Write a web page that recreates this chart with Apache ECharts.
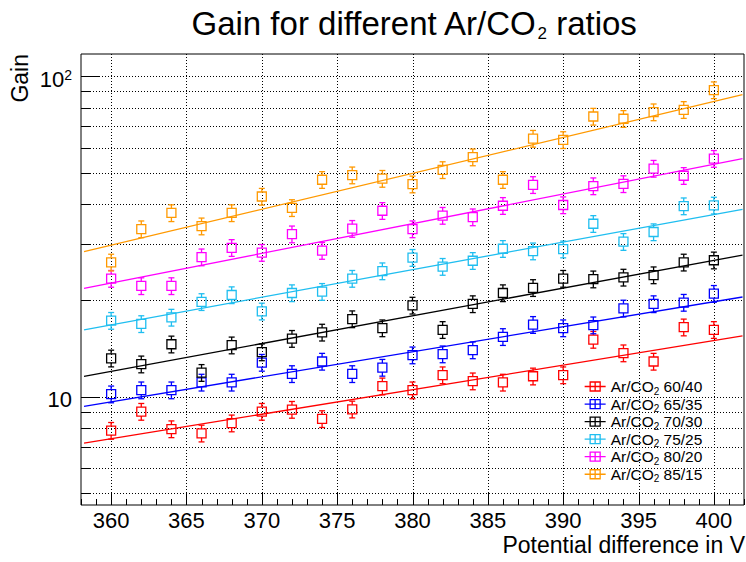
<!DOCTYPE html>
<html>
<head>
<meta charset="utf-8">
<script src="https://cdn.jsdelivr.net/npm/echarts@6/dist/echarts.min.js"></script>
<style>html,body{margin:0;padding:0;background:#fff}#c{width:746px;height:562px}</style>
</head>
<body>
<div id="c"></div>
<script>
// ---------------- data ----------------
const voltages = [360, 362, 364, 366, 368, 370, 372, 374, 376, 378, 380, 382, 384, 386, 388, 390, 392, 394, 396, 398, 400];
const mixtures = ['60/40', '65/35', '70/30', '75/25', '80/20', '85/15'];

const gain6040 = [7.85, 9.0, 7.94, 7.7, 8.28, 9.0, 9.13, 8.54, 9.15, 10.8, 10.5, 11.7, 11.2, 11.1, 11.6, 11.7, 15.1, 13.7, 12.9, 16.5, 16.2];
const gain6535 = [10.2, 10.5, 10.5, 11.1, 11.1, 12.8, 11.8, 12.9, 11.8, 12.35, 13.5, 13.6, 14.0, 15.4, 16.8, 16.4, 16.75, 18.9, 19.5, 19.7, 21.0];
const gain7030 = [13.2, 12.65, 14.6, 11.9, 14.5, 13.8, 15.2, 15.9, 17.5, 16.4, 19.3, 16.2, 19.5, 21.1, 21.9, 23.4, 23.3, 23.6, 24.0, 26.3, 26.7];
const gain7525 = [17.3, 16.9, 17.7, 19.8, 20.8, 18.5, 21.1, 21.3, 23.4, 24.7, 27.2, 25.5, 26.6, 29.0, 28.5, 28.9, 34.7, 30.5, 32.7, 39.4, 39.6];
const gain8020 = [23.4, 22.2, 22.2, 27.3, 29.2, 28.2, 32.2, 28.6, 33.5, 38.1, 33.4, 36.8, 36.4, 39.5, 45.9, 39.7, 45.5, 46.2, 51.6, 49.0, 55.4];
const gain8515 = [26.3, 33.4, 37.5, 34.1, 37.5, 42.2, 38.9, 47.6, 49.2, 48.0, 46.1, 51.1, 56.0, 47.6, 64.0, 63.4, 75.0, 73.8, 77.4, 78.7, 90.7];

// relative uncertainty of each gain point (error bar half-length)
const relError = 0.06;

// exponential fit lines: values at the two ends of the drawn range
const fitVoltages = [358.2, 401.9];
const fit6040 = [7.17, 15.5];
const fit6535 = [9.35, 20.5];
const fit7030 = [11.6, 27.7];
const fit7525 = [16.2, 38.5];
const fit8020 = [21.8, 55.4];
const fit8515 = [28.4, 87.7];

// tick labels
const xTickLabels = [360, 365, 370, 375, 380, 385, 390, 395, 400];
const yTickLabels = [10, 100];
const yMinorTicks = [5, 6, 7, 8, 9, 20, 30, 40, 50, 60, 70, 80, 90];

// ---------------- styling / layout ----------------
const gains = [gain6040, gain6535, gain7030, gain7525, gain8020, gain8515];
const fits = [fit6040, fit6535, fit7030, fit7525, fit8020, fit8515];
const colors = ['#ff0000', '#0000ff', '#000000', '#1fbef0', '#ff00ff', '#ff9900'];
const X_MIN = 358, X_MAX = 402, Y_MIN = 4.6, Y_MAX = 117.5;
const FONT = 'Liberation Sans';
const names = mixtures.map(m => 'Ar/CO2 ' + m);

const chart = echarts.init(document.getElementById('c'), null, {renderer: 'svg'});

function renderYGrid(params, api) {
  const v = api.value(1), major = api.value(2);
  const a = api.coord([X_MIN, v]), b = api.coord([X_MAX, v]);
  const y = Math.round(a[1]) + 0.5;
  const len = major ? 19 : 9.5;
  return {type: 'group', children: [
    {type: 'line', shape: {x1: a[0], y1: y, x2: b[0], y2: y}, style: {stroke: '#000', lineWidth: 1, lineDash: [1, 2], fill: 'none'}},
    {type: 'line', shape: {x1: a[0], y1: y, x2: a[0] + len, y2: y}, style: {stroke: '#000', lineWidth: 1, fill: 'none'}}
  ]};
}
function renderXTick(params, api) {
  const v = api.value(0), major = api.value(2);
  const a = api.coord([v, Y_MIN]);
  const x = Math.round(a[0]) + 0.5;
  return {type: 'line', shape: {x1: x, y1: a[1], x2: x, y2: a[1] - (major ? 12 : 6)}, style: {stroke: '#000', lineWidth: 1, fill: 'none'}};
}
function renderXGrid(params, api) {
  const v = api.value(0);
  const a = api.coord([v, Y_MIN]), b = api.coord([v, Y_MAX]);
  const x = Math.round(a[0]) + 0.5;
  return {type: 'line', shape: {x1: x, y1: a[1], x2: x, y2: b[1]}, style: {stroke: '#000', lineWidth: 1, lineDash: [1, 2], fill: 'none'}};
}
function makePointRenderer(color) {
  return function (params, api) {
    const x = api.value(0), y = api.value(1), e = api.value(2);
    const c = api.coord([x, y]), t = api.coord([x, y + e]), b = api.coord([x, y - e]);
    const h = 4.5, cap = 3;
    const st = {stroke: color, lineWidth: 1.3, fill: 'none'};
    const cx = c[0], cy = c[1];
    return {type: 'group', children: [
      {type: 'rect', shape: {x: cx - h, y: cy - h, width: 2 * h, height: 2 * h}, style: st},
      {type: 'line', shape: {x1: cx, y1: cy - h, x2: cx, y2: t[1]}, style: st},
      {type: 'line', shape: {x1: cx - cap, y1: t[1], x2: cx + cap, y2: t[1]}, style: st},
      {type: 'line', shape: {x1: cx, y1: cy + h, x2: cx, y2: b[1]}, style: st},
      {type: 'line', shape: {x1: cx - cap, y1: b[1], x2: cx + cap, y2: b[1]}, style: st}
    ]};
  };
}

const yGridData = yTickLabels.map(v => [X_MIN, v, 1]).concat(yMinorTicks.map(v => [X_MIN, v, 0]));
const xTickData = [];
for (let v = X_MIN; v <= X_MAX; v++) xTickData.push([v, Y_MIN, xTickLabels.indexOf(v) >= 0 ? 1 : 0]);
const xGridData = xTickLabels.map(v => [v, Y_MIN]);

const series = [
  {type: 'custom', name: 'ygrid', renderItem: renderYGrid, data: yGridData, encode: {x: 0, y: 1}, silent: true, z: 1},
  {type: 'custom', name: 'xgrid', renderItem: renderXGrid, data: xGridData, encode: {x: 0, y: 1}, silent: true, z: 1},
  {type: 'custom', name: 'xtick', renderItem: renderXTick, data: xTickData, encode: {x: 0, y: 1}, silent: true, z: 1}
];
names.forEach((n, i) => {
  series.push({
    type: 'line', name: n, data: fitVoltages.map((v, k) => [v, fits[i][k]]),
    symbol: 'none', lineStyle: {color: colors[i], width: 1.3}, itemStyle: {color: colors[i]}, silent: true, z: 2
  });
  series.push({
    type: 'custom', name: n, renderItem: makePointRenderer(colors[i]),
    data: voltages.map((v, k) => [v, gains[i][k], gains[i][k] * relError]),
    encode: {x: 0, y: 1}, itemStyle: {color: colors[i]}, silent: true, z: 3
  });
});

const ICON = 'path://M0,5L21,5M5.5,0.5L15.5,0.5L15.5,9.5L5.5,9.5ZM10.5,0.5L10.5,9.5';

chart.setOption({
  animation: false,
  backgroundColor: '#fff',
  title: {
    text: '{t|Gain for different Ar/CO}{s|2}{t| ratios}',
    left: 191.5, top: 4.3, padding: 0,
    textStyle: {fontWeight: 'normal', rich: {
      t: {fontSize: 33, fontFamily: FONT, fontWeight: 'normal', color: '#000', lineHeight: 38},
      s: {fontSize: 17, fontFamily: FONT, fontWeight: 'normal', color: '#000', lineHeight: 38, verticalAlign: 'bottom'}
    }}
  },
  legend: {
    orient: 'vertical', left: 584, top: 378.5, padding: 0,
    itemWidth: 21, itemHeight: 10, itemGap: 0, selectedMode: false,
    data: names.map((n, i) => ({name: n, icon: ICON, itemStyle: {color: 'rgba(0,0,0,0)', borderColor: colors[i], borderWidth: 1.3}})),
    formatter: n => '{a|Ar/CO}{s|2}{a| ' + n.split(' ')[1] + '}',
    textStyle: {fontFamily: FONT, color: '#000', fontSize: 15.5, rich: {
      a: {fontSize: 15.5, lineHeight: 19.1, fontFamily: FONT, color: '#000'},
      s: {fontSize: 10, lineHeight: 19.1, fontFamily: FONT, color: '#000', verticalAlign: 'bottom'}
    }}
  },
  grid: {left: 81, right: 2, top: 54, bottom: 57, show: true, borderColor: '#000', borderWidth: 1,
         backgroundColor: 'rgba(0,0,0,0)', containLabel: false, outerBoundsMode: 'none'},
  xAxis: {
    type: 'value', min: X_MIN, max: X_MAX,
    axisLine: {show: false}, axisTick: {show: false}, splitLine: {show: false}, minorSplitLine: {show: false},
    axisLabel: {
      customValues: xTickLabels,
      formatter: v => xTickLabels.some(t => Math.abs(t - v) < 1e-6) ? String(Math.round(v)) : '',
      margin: 7, lineHeight: 16, fontFamily: FONT, fontSize: 22, color: '#000'
    },
    name: 'Potential difference in V', nameLocation: 'end', nameGap: 1, nameMoveOverlap: false,
    nameTextStyle: {fontFamily: FONT, fontSize: 23, lineHeight: 17, color: '#000', align: 'right', verticalAlign: 'top', padding: [31, 0, 0, 0]}
  },
  yAxis: {
    type: 'log', logBase: 10, min: Y_MIN, max: Y_MAX,
    axisLine: {show: false}, axisTick: {show: false}, splitLine: {show: false}, minorSplitLine: {show: false},
    axisLabel: {
      customValues: yTickLabels,
      formatter: v => {
        const e = Math.round(Math.log10(v));
        if (Math.abs(Math.log10(v) - e) > 1e-6 || yTickLabels.indexOf(Math.pow(10, e)) < 0) return '';
        return e === 1 ? '{b|10}' : '{b|10}{p|' + e + '}';
      },
      margin: 9, padding: [6, 0, 0, 0], fontFamily: FONT, fontSize: 22, color: '#000',
      rich: {
        b: {fontSize: 22, fontFamily: FONT, color: '#000'},
        p: {fontSize: 14, fontFamily: FONT, color: '#000', verticalAlign: 'top'}
      }
    },
    name: 'Gain', nameLocation: 'end', nameGap: 0, nameRotate: 90, nameMoveOverlap: false,
    nameTextStyle: {fontFamily: FONT, fontSize: 23, color: '#000', align: 'right', verticalAlign: 'bottom', padding: [0, 0, 50, 0]}
  },
  series: series
});
</script>
</body>
</html>
